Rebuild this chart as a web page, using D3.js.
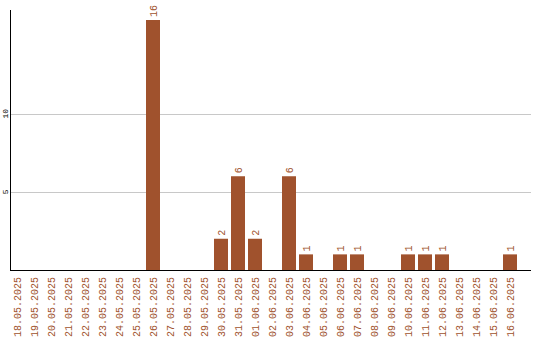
<!DOCTYPE html>
<html lang="en">
<head>
<meta charset="utf-8">
<title>Daily counts</title>
<script src="https://d3js.org/d3.v7.min.js"></script>
<style>
  body { margin: 0; background: #fff; }
  text { font-family: "Liberation Mono", "Courier New", monospace; }
</style>
</head>
<body>
<script>
// dates and counts
var dates = ["18.05.2025","19.05.2025","20.05.2025","21.05.2025","22.05.2025","23.05.2025",
  "24.05.2025","25.05.2025","26.05.2025","27.05.2025","28.05.2025","29.05.2025","30.05.2025",
  "31.05.2025","01.06.2025","02.06.2025","03.06.2025","04.06.2025","05.06.2025","06.06.2025",
  "07.06.2025","08.06.2025","09.06.2025","10.06.2025","11.06.2025","12.06.2025","13.06.2025",
  "14.06.2025","15.06.2025","16.06.2025"];
var counts = [0,0,0,0,0,0,0,0,16,0,0,0,2,6,2,0,6,1,0,1,1,0,0,1,1,1,0,0,0,1];
var yTicks = [5, 10];

var w = 540, h = 340;
var color = "#a0522d";

var svg = d3.select("body").append("svg")
  .attr("width", w)
  .attr("height", h);

var x = d3.scaleBand()
  .domain(dates)
  .range([10, 517])
  .paddingInner(3 / 17)
  .paddingOuter(0);

var y = d3.scaleLinear()
  .domain([0, 16])
  .range([270, 20]);

// grid lines
svg.selectAll("line.grid")
  .data(yTicks)
  .enter().append("line")
  .attr("class", "grid")
  .attr("x1", 11).attr("x2", 531)
  .attr("y1", function(d) { return Math.round(y(d)) + 0.5; })
  .attr("y2", function(d) { return Math.round(y(d)) + 0.5; })
  .attr("stroke", "#c8c8c8");

// y tick labels
svg.selectAll("text.ytick")
  .data(yTicks)
  .enter().append("text")
  .attr("class", "ytick")
  .attr("transform", function(d) { return "translate(8," + y(d) + ") rotate(-90)"; })
  .attr("text-anchor", "middle")
  .attr("font-size", "8px")
  .attr("fill", "#000")
  .text(function(d) { return d; });

// bars
var data = dates.map(function(d, i) { return {date: d, value: counts[i]}; });

svg.selectAll("rect")
  .data(data.filter(function(d) { return d.value > 0; }))
  .enter().append("rect")
  .attr("x", function(d) { return x(d.date); })
  .attr("y", function(d) { return y(d.value); })
  .attr("width", x.bandwidth())
  .attr("height", function(d) { return y(0) - y(d.value); })
  .attr("fill", color);

// value labels
svg.selectAll("text.val")
  .data(data.filter(function(d) { return d.value > 0; }))
  .enter().append("text")
  .attr("class", "val")
  .attr("transform", function(d) {
    return "translate(" + (x(d.date) + x.bandwidth() / 2 + 4) + "," + (y(d.value) - 3) + ") rotate(-90)";
  })
  .attr("font-size", "10px")
  .attr("fill", color)
  .text(function(d) { return d.value; });

// x labels
svg.selectAll("text.xlab")
  .data(dates)
  .enter().append("text")
  .attr("class", "xlab")
  .attr("transform", function(d) {
    return "translate(" + (x(d) + x.bandwidth() / 2 + 4) + ",277) rotate(-90)";
  })
  .attr("text-anchor", "end")
  .attr("font-size", "10px")
  .attr("fill", color)
  .text(function(d) { return d; });

// axes lines
svg.append("line")
  .attr("x1", 10.5).attr("x2", 10.5)
  .attr("y1", 10).attr("y2", 271)
  .attr("stroke", "#000");
svg.append("line")
  .attr("x1", 10).attr("x2", 531)
  .attr("y1", 270.5).attr("y2", 270.5)
  .attr("stroke", "#000");
</script>
</body>
</html>
